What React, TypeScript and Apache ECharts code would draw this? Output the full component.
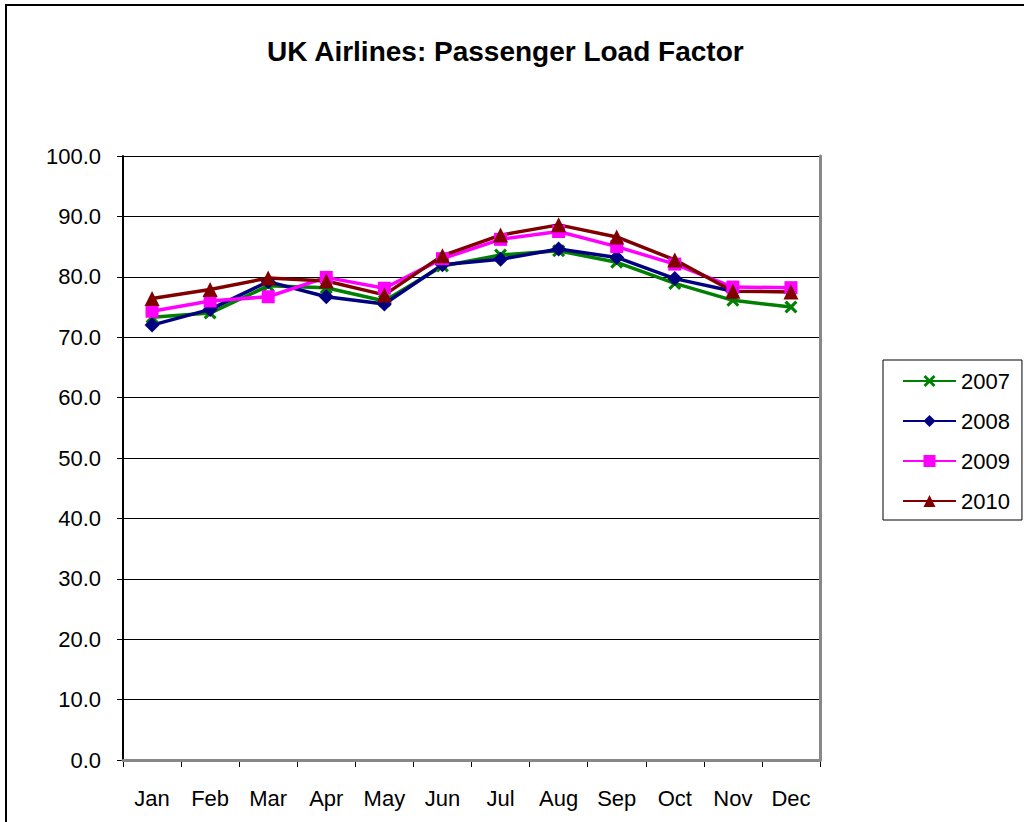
import React, { useEffect, useRef } from "react";
import * as echarts from "echarts";

const months = ["Jan", "Feb", "Mar", "Apr", "May", "Jun", "Jul", "Aug", "Sep", "Oct", "Nov", "Dec"];
const y2007 = [73.3, 74.0, 78.5, 78.2, 76.0, 81.8, 83.6, 84.3, 82.4, 78.9, 76.1, 75.0];
const y2008 = [72.0, 74.6, 79.2, 76.7, 75.5, 82.0, 82.9, 84.6, 83.2, 79.7, 77.6, null];
const y2009 = [74.3, 76.0, 76.7, 79.9, 78.1, 83.0, 86.2, 87.5, 85.0, 82.1, 78.3, 78.2];
const y2010 = [76.4, 77.9, 79.8, 79.3, 77.0, 83.5, 86.9, 88.6, 86.6, 82.8, 77.6, 77.5];
const seriesNames = ["2007", "2008", "2009", "2010"];
const titleText = "UK Airlines: Passenger Load Factor";

const FONT = 'Arial, "Liberation Sans", sans-serif';
const X_PATH =
  "path://M0,1.7 L1.7,0 L5,3.3 L8.3,0 L10,1.7 L6.7,5 L10,8.3 L8.3,10 L5,6.7 L1.7,10 L0,8.3 L3.3,5 Z";

export default function App() {
  const ref = useRef<HTMLDivElement>(null);
  useEffect(() => {
    if (!ref.current) return;
    const chart = echarts.init(ref.current, null, { renderer: "svg" });
    const mk = (name: string, data: (number | null)[], color: string, symbol: string, size: number) => ({
      name,
      type: "line",
      data,
      symbol,
      symbolSize: size,
      showAllSymbol: true,
      connectNulls: false,
      lineStyle: { color, width: 3.5 },
      itemStyle: { color, borderWidth: 0 },
      emphasis: { disabled: true },
      z: 3,
    });
    chart.setOption({
      animation: false,
      backgroundColor: "#fff",
      textStyle: { fontFamily: FONT },
      title: {
        text: titleText,
        left: 262,
        top: 32,
        textStyle: { fontFamily: FONT, fontWeight: "bold", fontSize: 28, color: "#000" },
      },
      graphic: [
        {
          type: "rect",
          shape: { x: 6, y: 5, width: 1100, height: 900 },
          style: { fill: "none", stroke: "#000", lineWidth: 2 },
          z: -10,
        },
      ],
      legend: {
        orient: "vertical",
        left: 883,
        top: 360,
        padding: [10, 12, 8, 19],
        borderColor: "#000",
        borderWidth: 1,
        itemWidth: 53,
        itemHeight: 15,
        itemGap: 18,
        textStyle: { fontFamily: FONT, fontSize: 22, color: "#000", padding: [0, 0, 0, 0] },
        data: seriesNames,
      },
      grid: { left: 123, top: 156, right: 204, bottom: 62, show: false },
      xAxis: [
        {
          type: "category",
          data: months,
          boundaryGap: true,
          axisLine: { lineStyle: { color: "#000", width: 2 } },
          axisTick: { show: true, length: 7, lineStyle: { color: "#000", width: 1 } },
          axisLabel: { color: "#000", fontSize: 22, margin: 27, fontFamily: FONT },
          splitLine: { show: false },
        },
        {
          type: "category",
          data: months,
          position: "top",
          z: 10,
          axisLine: { show: true, lineStyle: { color: "#888", width: 3 } },
          axisTick: { show: false },
          axisLabel: { show: false },
        },
      ],
      yAxis: [
        {
          type: "value",
          min: 0,
          max: 100,
          interval: 10,
          axisLine: { show: true, lineStyle: { color: "#000", width: 2 } },
          axisTick: { show: true, length: 6, lineStyle: { color: "#000", width: 1 } },
          axisLabel: {
            color: "#000",
            fontSize: 22,
            margin: 22,
            fontFamily: FONT,
            formatter: (v: number) => v.toFixed(1),
          },
          splitLine: { show: true, lineStyle: { color: "#000", width: 1 } },
        },
        {
          type: "value",
          min: 0,
          max: 100,
          interval: 10,
          position: "right",
          z: 10,
          axisLine: { show: true, lineStyle: { color: "#888", width: 3 } },
          axisTick: { show: false },
          axisLabel: { show: false },
          splitLine: { show: false },
        },
      ],
      series: [
        mk("2007", y2007, "#008000", X_PATH, 13),
        mk("2008", y2008, "#000080", "diamond", 15),
        mk("2009", y2009, "#FF00FF", "rect", 13),
        mk("2010", y2010, "#800000", "triangle", 15),
      ],
    });
    return () => chart.dispose();
  }, []);
  return (
    <div
      ref={ref}
      style={{ position: "absolute", left: 0, top: 0, width: 1024, height: 822 }}
    />
  );
}
